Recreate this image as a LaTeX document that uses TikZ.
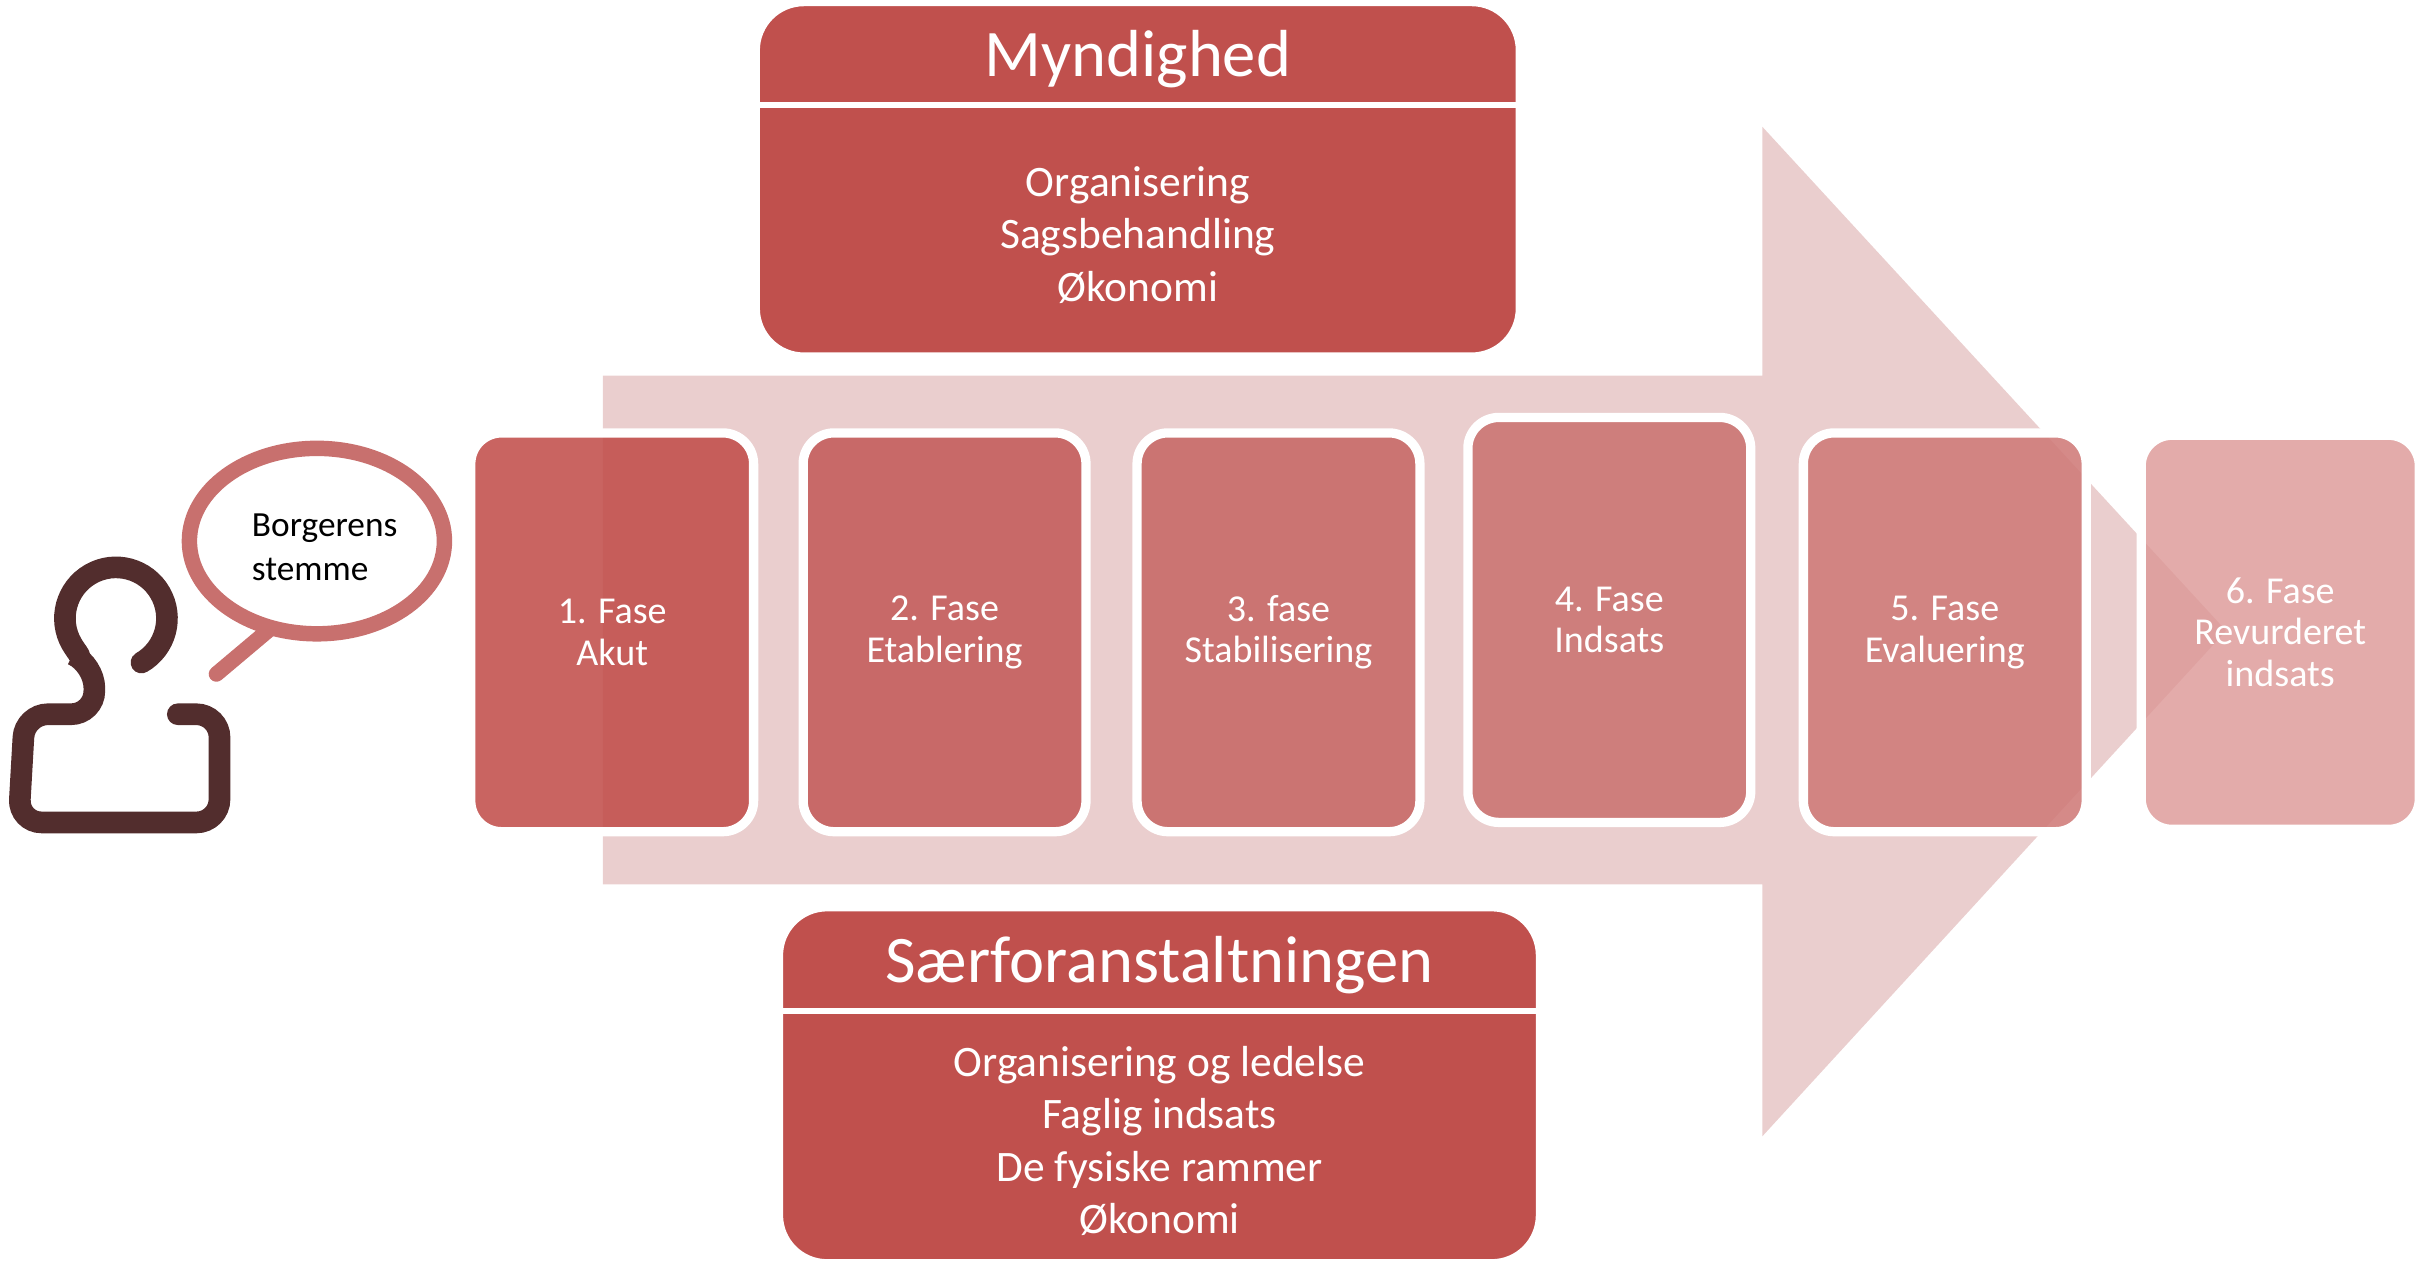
\documentclass[tikz,border=0pt]{standalone}
\usepackage{fontspec}
\setmainfont{Carlito}
\usetikzlibrary{positioning}
\usetikzlibrary{shapes.geometric}
\definecolor{redbox}{RGB}{192,80,77}
\definecolor{arrowpink}{RGB}{234,206,206}
\definecolor{persondark}{RGB}{82,45,45}
\definecolor{bubblered}{RGB}{200,112,110}
\tikzstyle{phase}=[draw=white,line width=1.2mm,rounded corners=4mm,text=white,
  minimum width=3.66cm,minimum height=5.16cm,align=center,font=\fontsize{14}{15.3}\selectfont,fill opacity=0.88,text opacity=1]
\tikzstyle{panel}=[fill=redbox,draw=white,line width=0.6mm,rounded corners=6mm]
\tikzstyle{head}=[text=white,font=\fontsize{24.5}{28}\selectfont]
\tikzstyle{body}=[text=white,align=center,font=\fontsize{16}{19.3}\selectfont]
\begin{document}
\begin{tikzpicture}[x=0.02cm,y=-0.02cm]
  \useasboundingbox (0,0) rectangle (1568,819);
  % big arrow
  \fill[arrowpink] (390,243) -- (1140,243) -- (1140,82) -- (1440,408) -- (1140,735)
    -- (1140,572) -- (390,572) -- cycle;
  % top panel
  \node[panel,minimum width=9.84cm,minimum height=4.54cm] (myn) at (736,116) {};
  \draw[white,line width=0.8mm] (491,68) -- (981,68);
  \node[head] (mynhead) at (736,38) {Myndighed};
  \node[body] (mynbody) at (736,152) {Organisering\\Sagsbehandling\\Økonomi};
  % bottom panel
  \node[panel,minimum width=9.8cm,minimum height=4.56cm] (saer) at (750,702) {};
  \draw[white,line width=0.8mm] (506,654) -- (994,654);
  \node[head] (saerhead) at (750,624) {Særforanstaltningen};
  \node[body] (saerbody) at (750,738) {Organisering og ledelse\\Faglig indsats\\De fysiske rammer\\Økonomi};
  % phases
  \node[phase,fill={rgb,255:red,194;green,78;blue,75}] (f1) at (396,409) {1. Fase\\Akut};
  \node[phase,fill={rgb,255:red,196;green,92;blue,90}] (f2) at (611,409) {2. Fase\\Etablering};
  \node[phase,fill={rgb,255:red,199;green,104;blue,102}] (f3) at (827,409) {3. fase\\Stabilisering};
  \node[phase,fill={rgb,255:red,203;green,116;blue,113},minimum height=5.24cm] (f4) at (1041,401) {4. Fase\\Indsats};
  \node[phase,fill={rgb,255:red,207;green,122;blue,120}] (f5) at (1258,409) {5. Fase\\Evaluering};
  \node[phase,fill={rgb,255:red,220;green,150;blue,149},minimum width=3.6cm,minimum height=5.1cm,fill opacity=0.8] (f6) at (1475,409) {6. Fase\\Revurderet\\indsats};
  % person
  \draw[persondark,line width=2.8mm,line cap=round,rounded corners=3mm]
    (75,400) ++(60:33) arc[start angle=60,end angle=-245,radius=33] -- (61,462) -- (16,462)
    -- (12,532) -- (142,532) -- (142,462) -- (115,462);
  % speech bubble
  \draw[bubblered,line width=2mm,line cap=round] (140,436) -- (178,404);
  \node[draw=bubblered,line width=2mm,fill=white,ellipse,minimum width=3.3cm,minimum height=2.4cm] (bubble) at (205,350) {};
  \node[align=left,font=\fontsize{13}{16}\selectfont] (voice) at (210,354) {Borgerens\\stemme};
\end{tikzpicture}
\end{document}
